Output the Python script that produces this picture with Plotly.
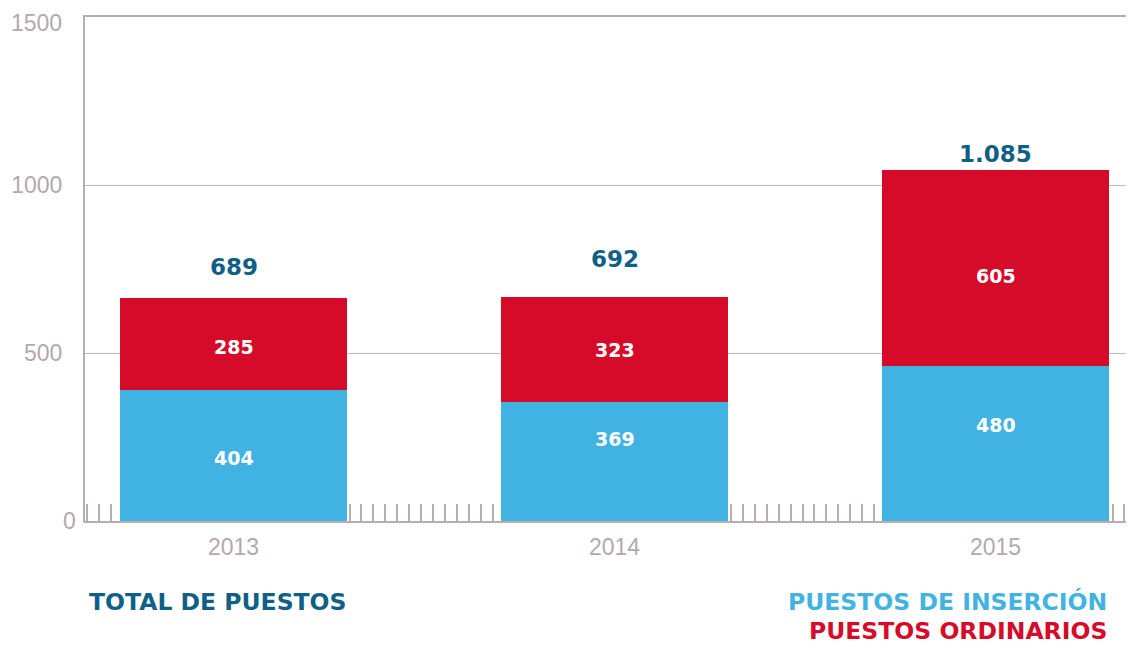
import plotly.graph_objects as go

# ---- data ----
years = ["2013", "2014", "2015"]
puestos_insercion = [404, 369, 480]
puestos_ordinarios = [285, 323, 605]
total_puestos = [689, 692, 1085]
total_labels = ["689", "692", "1.085"]
y_ticks = [0, 500, 1000, 1500]

# ---- styles ----
BLUE = "#41b3e3"
RED = "#d60b2a"
DARK = "#0f5f87"
GREY = "#b3a8ac"
LINE = "#b8aeb1"
GRID = "#bdb6b9"
BOLD = "DejaVu Sans"
REG = "Liberation Sans, Arial, sans-serif"

idx = list(range(len(years)))

fig = go.Figure()
fig.add_trace(go.Bar(x=idx, y=puestos_insercion, marker_color=BLUE, width=0.596,
                     yaxis="y2", name="PUESTOS DE INSERCIÓN", marker_line_width=0))
fig.add_trace(go.Bar(x=idx, y=puestos_ordinarios, marker_color=RED, width=0.596,
                     yaxis="y2", name="PUESTOS ORDINARIOS", marker_line_width=0))

annotations = []
# total labels above bars
total_shift = [31, 38, 16]
for i, t in enumerate(total_puestos):
    annotations.append(dict(x=idx[i], y=t, xref="x", yref="y2", text=total_labels[i],
                            showarrow=False, yanchor="middle", yshift=total_shift[i],
                            font=dict(family=BOLD, size=23, color=DARK, weight="bold")))
# inner labels
ins_shift = [-2, 22, 18]
ord_shift = [-3, 0, -8]
for i in idx:
    a = puestos_insercion[i]
    b = puestos_ordinarios[i]
    annotations.append(dict(x=idx[i], y=a / 2, xref="x", yref="y2", text=str(a),
                            showarrow=False, yanchor="middle", yshift=ins_shift[i],
                            font=dict(family=BOLD, size=19, color="white", weight="bold")))
    annotations.append(dict(x=idx[i], y=a + b / 2, xref="x", yref="y2", text=str(b),
                            showarrow=False, yanchor="middle", yshift=ord_shift[i],
                            font=dict(family=BOLD, size=19, color="white", weight="bold")))
# zero label and top label (drawn as annotations so they sit like the reference)
annotations.append(dict(x=-0.0067, y=y_ticks[0], xref="paper", yref="y", text=str(y_ticks[0]),
                        showarrow=False, xanchor="right", yanchor="middle",
                        font=dict(family=REG, size=23, color=GREY)))
annotations.append(dict(x=-0.0200, y=y_ticks[-1], xref="paper", yref="y", text=str(y_ticks[-1]),
                        showarrow=False, xanchor="right", yanchor="top", yshift=9,
                        font=dict(family=REG, size=23, color=GREY)))
# legend texts
annotations.append(dict(x=0.003, y=-0.1617, xref="paper", yref="paper", text="TOTAL DE PUESTOS",
                        showarrow=False, xanchor="left", yanchor="middle", borderpad=0,
                        font=dict(family=BOLD, size=23.5, color=DARK, weight="bold")))
annotations.append(dict(x=0.975, y=-0.1617, xref="paper", yref="paper", text="PUESTOS DE INSERCIÓN",
                        showarrow=False, xanchor="right", yanchor="middle", borderpad=0,
                        font=dict(family=BOLD, size=23.5, color=BLUE, weight="bold")))
annotations.append(dict(x=0.975, y=-0.2173, xref="paper", yref="paper", text="PUESTOS ORDINARIOS",
                        showarrow=False, xanchor="right", yanchor="middle", borderpad=0,
                        font=dict(family=BOLD, size=23.5, color=RED, weight="bold")))

fig.update_layout(
    width=1134, height=649,
    margin=dict(l=77, r=8, t=9, b=136),
    paper_bgcolor="white", plot_bgcolor="white",
    barmode="stack", bargap=0, showlegend=False,
    xaxis=dict(range=[-0.3898, 2.3635], tickmode="array", tickvals=idx, ticktext=years,
               showline=True, mirror=True, linecolor=LINE, linewidth=2, ticks="", showgrid=False,
               zeroline=False, layer="below traces", automargin=False,
               tickfont=dict(family=REG, size=23, color=GREY), ticklabelstandoff=4,
               minor=dict(ticks="inside", ticklen=17, tickwidth=2, tickcolor=LINE,
                          tick0=1.3058, dtick=0.03129, showgrid=False)),
    yaxis=dict(range=[0, 1500], tickmode="array", tickvals=y_ticks,
               ticktext=[""] + [str(v) for v in y_ticks[1:-1]] + [""],
               showline=True, linecolor=LINE, linewidth=2, ticks="",
               showgrid=True, gridcolor=GRID, gridwidth=1, zeroline=False,
               automargin=False, ticklabeloverflow="allow",
               tickfont=dict(family=REG, size=23, color=GREY), ticklabelstandoff=16),
    yaxis2=dict(range=[0, 1560], overlaying="y", visible=False, showgrid=False,
                zeroline=False, automargin=False),
    annotations=annotations,
)

fig.write_html("out.html")
